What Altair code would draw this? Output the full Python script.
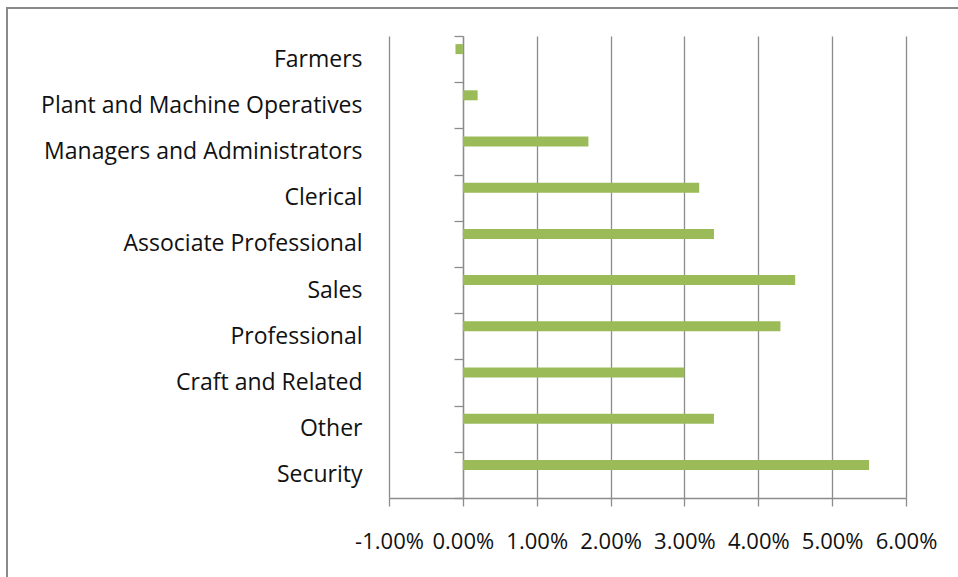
import altair as alt
import pandas as pd

# Change in employment by occupation
occupations = [
    "Farmers",
    "Plant and Machine Operatives",
    "Managers and Administrators",
    "Clerical",
    "Associate Professional",
    "Sales",
    "Professional",
    "Craft and Related",
    "Other",
    "Security",
]
changes = [-0.001, 0.002, 0.017, 0.032, 0.034, 0.045, 0.043, 0.030, 0.034, 0.055]
x_ticks = [-0.01, 0.0, 0.01, 0.02, 0.03, 0.04, 0.05, 0.06]

df = pd.DataFrame({"occupation": occupations, "change": changes})

W, H = 517, 462
LEFT, TOP = 389, 36
FONT = "Open Sans"
GRID = "#8c8c8c"

x_scale = alt.Scale(domain=[-0.01, 0.06], nice=False, zero=False)
y_scale = alt.Scale(domain=occupations, paddingInner=0, paddingOuter=0)

bars = alt.Chart(df).mark_bar(
    color="#9BBB59", size=10, yOffset=-10
).encode(
    x=alt.X(
        "change:Q",
        scale=x_scale,
        axis=alt.Axis(
            values=x_ticks,
            labelExpr="replace(format(datum.value, '.2%'), '\u2212', '-')",
            title=None,
            grid=True,
            gridColor=GRID,
            gridWidth=1.3,
            domainColor=GRID,
            domainWidth=1.3,
            tickColor=GRID,
            tickWidth=1.3,
            tickSize=8,
            labelPadding=25,
            labelFont=FONT,
            labelFontSize=22,
            labelColor="#111111",
            labelFlush=False,
            labelOverlap=False,
        ),
    ),
    x2=alt.datum(0),
    y=alt.Y(
        "occupation:N",
        scale=y_scale,
        sort=occupations,
        axis=alt.Axis(
            title=None,
            offset=-74,
            tickBand="extent",
            domainColor=GRID,
            domainWidth=1.3,
            tickColor=GRID,
            tickWidth=1.3,
            tickSize=9,
            labelPadding=92,
            labelFont=FONT,
            labelFontSize=23,
            labelColor="#111111",
            labelLimit=400,
        ),
    ),
)

# Outer frame around the chart
frame = alt.Chart(pd.DataFrame({"k": [0]})).mark_rect(
    fill=None, stroke="#8a8a8a", strokeWidth=2, clip=False
).encode(
    x=alt.value(7 - LEFT),
    x2=alt.value(958 - LEFT + 20),
    y=alt.value(8 - TOP),
    y2=alt.value(577 - TOP + 20),
)

chart = alt.layer(frame, bars).properties(
    width=W,
    height=H,
    autosize=alt.AutoSizeParams(type="none"),
    padding={"left": LEFT, "top": TOP, "right": 958 - LEFT - W, "bottom": 577 - TOP - H},
    background="white",
).configure_view(stroke=None)

chart.save("out.html", embed_options={"renderer": "svg", "actions": False})
